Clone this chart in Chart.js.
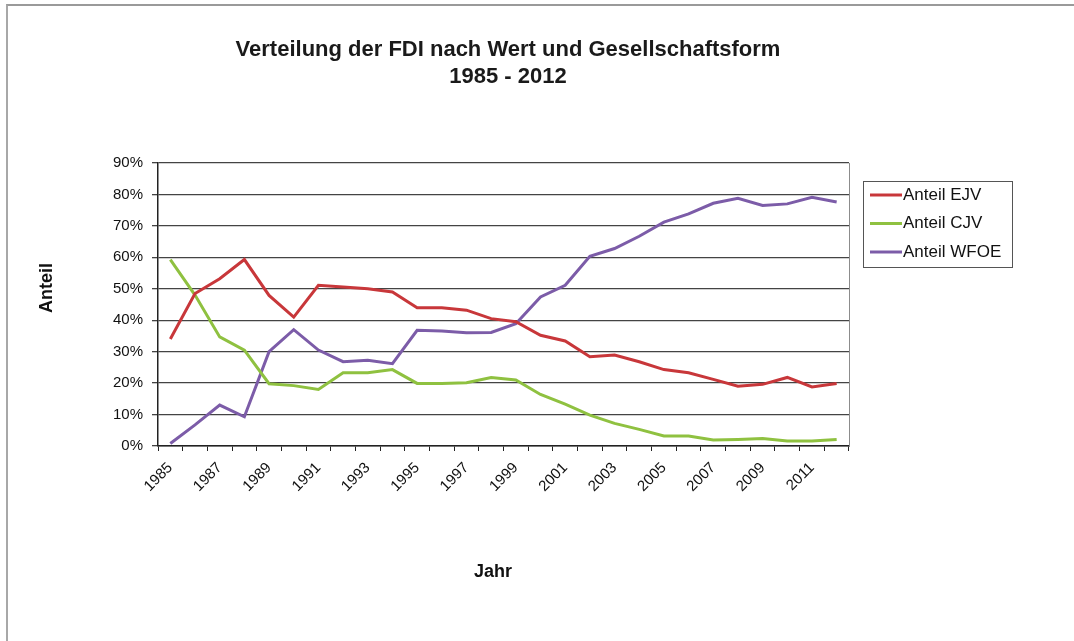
<!DOCTYPE html>
<html>
<head>
<meta charset="utf-8">
<script src="https://cdn.jsdelivr.net/npm/chart.js@4"></script>
<style>
  html, body { margin: 0; padding: 0; background: #fff; }
  #wrap { position: relative; width: 1074px; height: 641px; }
  #frame { position: absolute; left: 6px; top: 4px; right: 0; bottom: 0;
           border-top: 2px solid #9a9a9a; border-left: 2px solid #a8a8a8; }
  canvas { position: absolute; left: 0; top: 0; }
</style>
</head>
<body>
<div id="wrap">
  <div id="frame"></div>
  <canvas id="myChart" width="1074" height="641"></canvas>
</div>
<script>
const years = [
  "1985", "1986", "1987", "1988", "1989", "1990", "1991",
  "1992", "1993", "1994", "1995", "1996", "1997", "1998",
  "1999", "2000", "2001", "2002", "2003", "2004", "2005",
  "2006", "2007", "2008", "2009", "2010", "2011", "2012",
];
const anteilEJV = [
  34.0, 48.5, 53.2, 59.3, 47.9, 41.0, 51.1, 50.6, 50.0, 49.0,
  44.0, 44.0, 43.2, 40.5, 39.5, 35.2, 33.4, 28.4, 28.9, 26.8,
  24.3, 23.3, 21.2, 19.0, 19.6, 21.8, 18.8, 19.9,
];
const anteilCJV = [
  59.3, 48.0, 34.7, 30.5, 19.8, 19.2, 18.0, 23.3, 23.3, 24.3,
  19.9, 19.9, 20.1, 21.8, 21.0, 16.4, 13.3, 9.8, 7.2, 5.3,
  3.2, 3.2, 1.9, 2.1, 2.4, 1.6, 1.6, 2.1,
];
const anteilWFOE = [
  0.8, 6.7, 13.0, 9.3, 30.0, 37.0, 30.5, 26.8, 27.3, 26.2,
  36.8, 36.6, 36.0, 36.1, 38.9, 47.4, 51.1, 60.3, 62.8, 66.7,
  71.2, 73.8, 77.2, 78.8, 76.5, 77.0, 79.1, 77.6,
];
const seriesNames = ["Anteil EJV", "Anteil CJV", "Anteil WFOE"];
const seriesColors = ["#c8373a", "#8fc140", "#7c5ca8"];
const xTitle = "Jahr";
const yTitle = "Anteil";

const FONT = "'Liberation Sans', Arial, sans-serif";

// legend box, axis titles and right frame line, placed like the Excel original
const excelBits = {
  id: "excelBits",
  afterDraw(chart) {
    const ctx = chart.ctx;
    const area = chart.chartArea;
    ctx.save();
    ctx.strokeStyle = "#8c8c8c";
    ctx.lineWidth = 1;
    ctx.beginPath();
    ctx.moveTo(area.right + 0.5, area.top);
    ctx.lineTo(area.right + 0.5, area.bottom);
    ctx.stroke();

    // axis titles
    ctx.fillStyle = "#111";
    ctx.font = "bold 18px " + FONT;
    ctx.textAlign = "center";
    ctx.textBaseline = "middle";
    ctx.fillText(xTitle, 493, 572);
    ctx.save();
    ctx.translate(47, 288);
    ctx.rotate(-Math.PI / 2);
    ctx.fillText(yTitle, 0, 0);
    ctx.restore();

    // legend
    const x = 863, y = 181, w = 149, h = 86;
    ctx.strokeStyle = "#555";
    ctx.lineWidth = 1;
    ctx.strokeRect(x + 0.5, y + 0.5, w, h);
    ctx.font = "17px " + FONT;
    ctx.textAlign = "left";
    chart.data.datasets.forEach((ds, i) => {
      const rowY = 195 + i * 28.5;
      ctx.strokeStyle = ds.borderColor;
      ctx.lineWidth = 3;
      ctx.beginPath();
      ctx.moveTo(870, rowY);
      ctx.lineTo(902, rowY);
      ctx.stroke();
      ctx.fillText(ds.label, 903, rowY);
    });
    ctx.restore();
  },
};

new Chart("myChart", {
  type: "line",
  data: {
    labels: years,
    datasets: [
      { label: seriesNames[0], data: anteilEJV, borderColor: seriesColors[0] },
      { label: seriesNames[1], data: anteilCJV, borderColor: seriesColors[1] },
      { label: seriesNames[2], data: anteilWFOE, borderColor: seriesColors[2] },
    ],
  },
  options: {
    responsive: false,
    animation: false,
    layout: { padding: { left: 0, right: 58, top: 0, bottom: 0 } },
    elements: {
      line: { borderWidth: 3, tension: 0 },
      point: { radius: 0 },
    },
    plugins: {
      legend: { display: false },
      tooltip: { enabled: false },
      title: {
        display: true,
        text: ["Verteilung der FDI nach Wert und Gesellschaftsform", "1985 - 2012"],
        color: "#1a1a1a",
        font: { family: FONT, size: 22, weight: "bold", lineHeight: 1.25 },
        padding: { top: 36, bottom: 72 },
      },
    },
    scales: {
      x: {
        offset: true,
        grid: {
          offset: true,
          drawOnChartArea: false,
          drawTicks: true,
          tickLength: 5,
          color: "#222",
        },
        border: { color: "#222", width: 1.5 },
        ticks: {
          autoSkip: false,
          maxRotation: 45,
          minRotation: 45,
          padding: 8,
          color: "#111",
          font: { family: FONT, size: 15 },
          callback: function (v, i) {
            return i % 2 === 0 ? years[i] : "";
          },
        },
        afterFit: function (scale) {
          scale.height = 195;
        },
      },
      y: {
        min: 0,
        max: 90,
        grid: {
          color: "#444",
          lineWidth: 1.3,
          tickLength: 6,
        },
        border: { color: "#222", width: 1.5 },
        ticks: {
          stepSize: 10,
          padding: 9,
          color: "#111",
          font: { family: FONT, size: 15 },
          callback: (v) => v + "%",
        },
        afterFit: function (scale) {
          scale.width = 158;
        },
      },
      // empty right-hand axis that keeps room for the legend
      yRight: {
        position: "right",
        grid: { display: false },
        border: { display: false },
        ticks: { display: false },
        afterFit: function (scale) {
          scale.width = 167;
        },
      },
    },
  },
  plugins: [excelBits],
});
</script>
</body>
</html>
